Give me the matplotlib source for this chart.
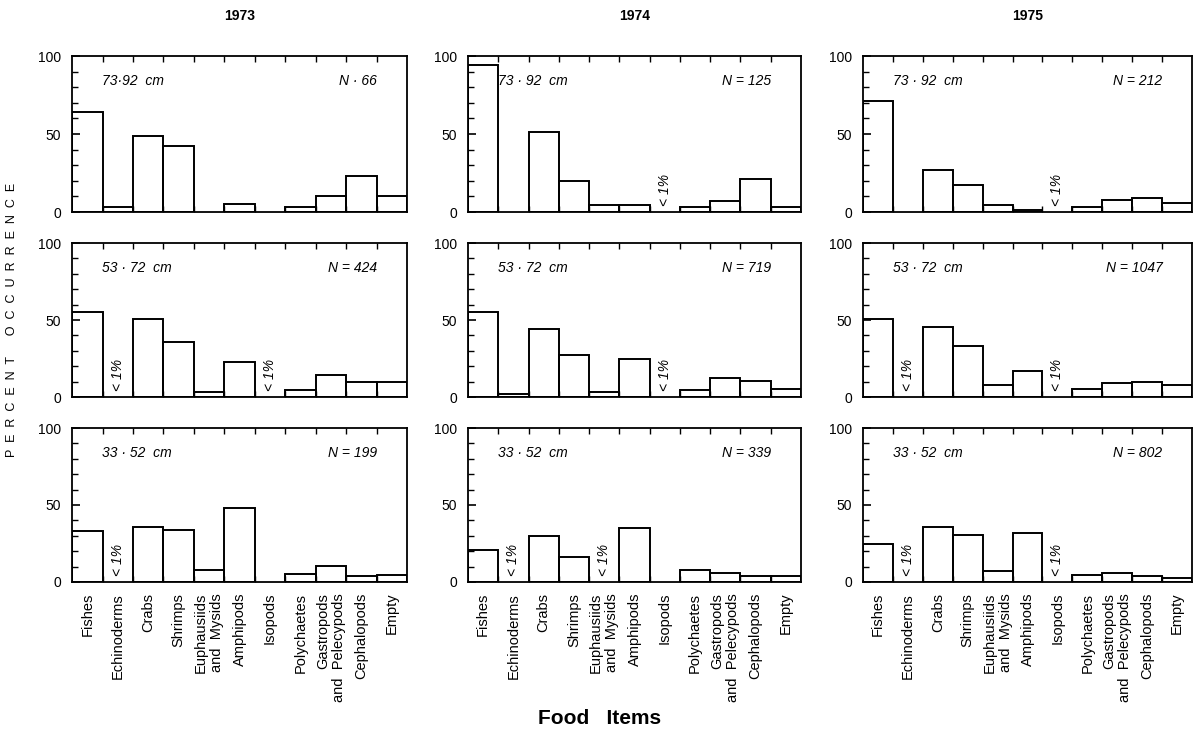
import matplotlib
matplotlib.use("Agg")
import matplotlib.pyplot as plt
import matplotlib.transforms as mtransforms
import numpy as np

plt.rcParams["font.family"] = ["Liberation Sans", "DejaVu Sans"]

# food item categories (x axis of every panel)
categories = ["Fishes", "Echinoderms", "Crabs", "Shrimps", "Euphausiids\nand  Mysids",
              "Amphipods", "Isopods", "Polychaetes", "Gastropods\nand  Pelecypods",
              "Cephalopods", "Empty"]

years = ["1973", "1974", "1975"]

# percent occurrence, rows = size class, one list per year
big_1973 = [64, 3, 49, 42, 0, 5, 0, 3.5, 10, 23, 10]
big_1974 = [94.5, 0, 51, 20, 4.5, 4.5, 0, 3, 7, 21, 3]
big_1975 = [71, 0, 27, 17, 4.5, 1, 0, 3.5, 8, 9, 6]
mid_1973 = [55, 0, 50.5, 36, 3, 23, 0, 4.5, 14, 9.5, 9.5]
mid_1974 = [55, 2, 44.5, 27, 3.5, 25, 0, 4.5, 12.5, 10.5, 5.5]
mid_1975 = [50.5, 0, 45.5, 33, 8, 17, 0, 5, 9, 10, 8]
small_1973 = [33, 0, 36, 34, 8, 48, 0, 5, 10.5, 4, 4.5]
small_1974 = [21, 0, 30, 16, 0, 35, 0, 7.5, 6, 4, 4]
small_1975 = [24.5, 0, 35.5, 30.5, 7, 31.5, 0, 4.5, 6, 4, 2.5]

# categories marked "< 1%"
lt1_big = [[], [6], [6]]
lt1_mid = [[1, 6], [6], [1, 6]]
lt1_small = [[1], [1, 4], [1, 6]]

# sample sizes
n_big = ["N · 66", "N = 125", "N = 212"]
n_mid = ["N = 424", "N = 719", "N = 1047"]
n_small = ["N = 199", "N = 339", "N = 802"]

values = [[big_1973, big_1974, big_1975],
          [mid_1973, mid_1974, mid_1975],
          [small_1973, small_1974, small_1975]]
lt1 = [lt1_big, lt1_mid, lt1_small]
n_labels = [n_big, n_mid, n_small]
size_text = [["73·92  cm", "73 · 92  cm", "73 · 92  cm"],
             ["53 · 72  cm", "53 · 72  cm", "53 · 72  cm"],
             ["33 · 52  cm", "33 · 52  cm", "33 · 52  cm"]]

fig = plt.figure(figsize=(11.95, 7.41), dpi=100)

col_left = [0.0603, 0.3916, 0.7222]
col_width = [0.2803, 0.2787, 0.2753]
row_bottom = [0.7139, 0.4642, 0.2146]
row_height = [0.2105, 0.2078, 0.2078]

x = np.arange(len(categories))

for r in range(3):
    for c in range(3):
        ax = fig.add_axes([col_left[c], row_bottom[r], col_width[c], row_height[r]])
        vals = values[r][c]
        for i, v in enumerate(vals):
            if v > 0:
                ax.bar(x[i], v, width=1.0, fill=False, edgecolor="black", linewidth=1.4)
        for i in lt1[r][c]:
            ax.text(x[i], 4, "< 1%", rotation=90, ha="center", va="bottom",
                    fontsize=10, style="italic")
        ax.set_xlim(-0.5, len(categories) - 0.5)
        ax.set_ylim(0, 100)
        ax.set_yticks([0, 50, 100])
        ax.set_yticks(np.arange(10, 100, 10), minor=True)
        ax.set_xticks(np.arange(0.5, len(categories) - 0.5, 1.0))
        ax.set_xticklabels([])
        ax.tick_params(axis="y", which="major", direction="in", length=6, width=1.2,
                       labelsize=10, pad=8)
        ax.tick_params(axis="y", which="minor", direction="in", length=4, width=1.0)
        ax.tick_params(axis="x", direction="in", length=4, width=1.0, top=True)
        for s in ax.spines.values():
            s.set_linewidth(1.3)
        ax.text(0.09, 0.84, size_text[r][c], transform=ax.transAxes, fontsize=10,
                style="italic", ha="left", va="center")
        ax.text(0.91, 0.84, n_labels[r][c], transform=ax.transAxes, fontsize=10,
                style="italic", ha="right", va="center")
        if r == 2:
            trans = mtransforms.blended_transform_factory(ax.transData, ax.transAxes)
            for i, name in enumerate(categories):
                ax.text(x[i], -0.07, name, transform=trans, rotation=90, ha="center",
                        va="top", multialignment="right", fontsize=10.5)
        if r == 0:
            fig.text(col_left[c] + col_width[c] / 2, 0.978, years[c], ha="center",
                     va="center", fontsize=10, fontweight="bold")

fig.text(0.502, 0.031, "Food   Items", ha="center", va="center", fontsize=15,
         fontweight="bold")
fig.text(0.010, 0.568, "P  E  R  C  E  N  T      O  C  C  U  R  R  E  N  C  E", rotation=90,
         ha="center", va="center", fontsize=9)

fig.savefig("out.png", dpi=100)
